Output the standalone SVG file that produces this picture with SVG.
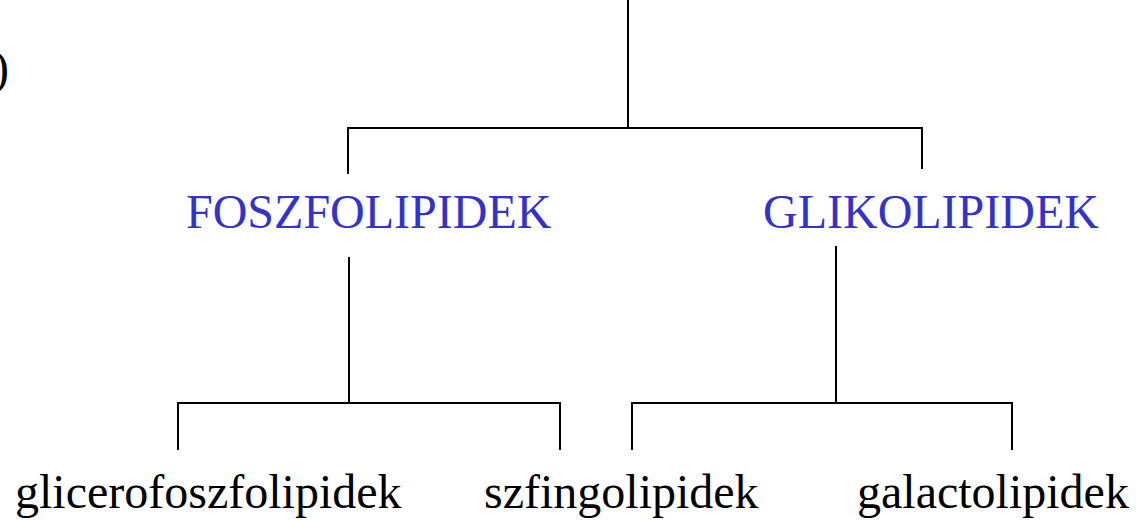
<svg xmlns="http://www.w3.org/2000/svg" width="1142" height="521" viewBox="0 0 1142 521">
<style>
text{font-family:'Liberation Serif','Times New Roman',serif;font-size:48px;fill:#000}
.b{fill:#3333CC}
.c line{stroke:#000;stroke-width:2}
</style>
<rect width="1142" height="521" fill="#fff"/>
<g id="connectors" class="c">
<line x1="628" y1="0" x2="628" y2="128"/>
<line x1="348" y1="128" x2="922" y2="128"/>
<line x1="348" y1="127" x2="348" y2="174"/>
<line x1="922" y1="127" x2="922" y2="169"/>
<line x1="349" y1="257" x2="349" y2="403"/>
<line x1="178" y1="403" x2="560" y2="403"/>
<line x1="178" y1="402" x2="178" y2="450"/>
<line x1="560" y1="402" x2="560" y2="450"/>
<line x1="836" y1="246" x2="836" y2="403"/>
<line x1="632" y1="403" x2="1012" y2="403"/>
<line x1="632" y1="402" x2="632" y2="450"/>
<line x1="1012" y1="402" x2="1012" y2="450"/>
</g>
<g id="paren"><text x="-7" y="84">)</text></g>
<g id="foszfolipidek"><text class="b" x="186" y="228">FOSZFOLIPIDEK</text></g>
<g id="glikolipidek"><text class="b" x="763" y="228">GLIKOLIPIDEK</text></g>
<g id="glicerofoszfolipidek"><text x="15" y="508">glicerofoszfolipidek</text></g>
<g id="szfingolipidek"><text x="484" y="508">szfingolipidek</text></g>
<g id="galactolipidek"><text x="857" y="508">galactolipidek</text></g>
</svg>
